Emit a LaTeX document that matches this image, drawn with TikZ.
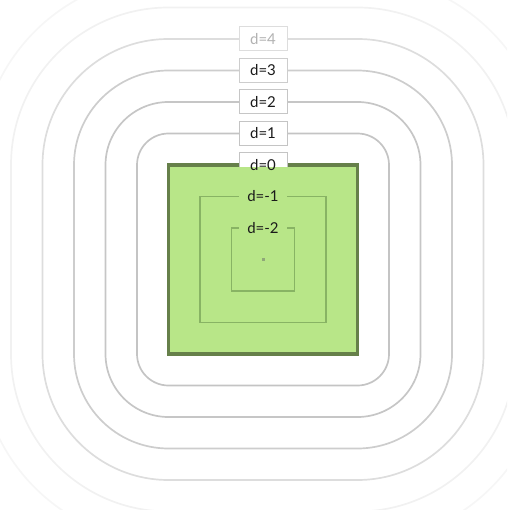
\documentclass[tikz,border=0pt]{standalone}
\usepackage{fontspec}
\setmainfont{Lato}
\definecolor{ringone}{HTML}{C4C4C4}
\definecolor{ringtwo}{HTML}{C6C6C6}
\definecolor{ringthree}{HTML}{CDCDCD}
\definecolor{ringfour}{HTML}{DDDDDD}
\definecolor{ringfive}{HTML}{F1F1F1}
\definecolor{ringsix}{HTML}{F6F6F6}
\definecolor{greenfill}{HTML}{B8E688}
\definecolor{greenedge}{HTML}{66804A}
\definecolor{greenline}{HTML}{88B364}
\definecolor{greendot}{HTML}{8FA878}
\definecolor{txt}{HTML}{1A1A1A}
\begin{document}
\begin{tikzpicture}[x=1pt,y=-1pt,
  ring/.style={line width=1.7pt},
  lblbox/.style={draw=#1, fill=white, line width=1pt, minimum width=48pt,
    minimum height=24pt, inner sep=0pt, font=\fontsize{15}{15}\selectfont},
  greenlbl/.style={fill=greenfill, minimum width=48pt, minimum height=14pt,
    inner sep=0pt, text=txt, font=\fontsize{15}{15}\selectfont}]
\useasboundingbox (0,0) rectangle (507,510);
\clip (0,0) rectangle (507,510);
% outer rings (distance levels d>0)
\foreach \k/\col in {6/ringsix,5/ringfive,4/ringfour,3/ringthree,2/ringtwo,1/ringone}{
  \pgfmathsetmacro\h{94.5+31.5*\k}
  \pgfmathsetmacro\r{31.5*\k}
  \draw[ring, draw=\col, rounded corners=\r pt] (263-\h,259.5-\h) rectangle (263+\h,259.5+\h);
}
% labels on rings
\node[lblbox=ringfour, text=black!30] (l4) at (263,39) {d=4};
\node[lblbox=ringthree, text=txt] (l3) at (263,70.5) {d=3};
\node[lblbox=ringtwo, text=txt] (l2) at (263,102) {d=2};
\node[lblbox=ringone, text=txt] (l1) at (263,133.5) {d=1};
% the shape (d=0)
\fill[greenfill] (168.5,165) rectangle (357.5,354);
\draw[greenedge, line width=3.2pt] (168.5,165) rectangle (357.5,354);
\fill[white] (239,153) rectangle (287,166.7);
\draw[ringone, line width=1pt] (239,166.7) -- (239,153) -- (287,153) -- (287,166.7);
\node[text=txt, font=\fontsize{15}{15}\selectfont] (l0) at (263,165.5) {d=0};
% inner levels
\draw[greenline, line width=1.7pt] (200,196.5) rectangle (326,322.5);
\draw[greenline, line width=1.7pt] (231.5,228) rectangle (294.5,291);
\node[greenlbl] (lm1) at (263,196.5) {d=-1};
\node[greenlbl] (lm2) at (263,228) {d=-2};
% centre point
\fill[greendot] (261.5,258) rectangle (264.5,261);
\end{tikzpicture}
\end{document}
